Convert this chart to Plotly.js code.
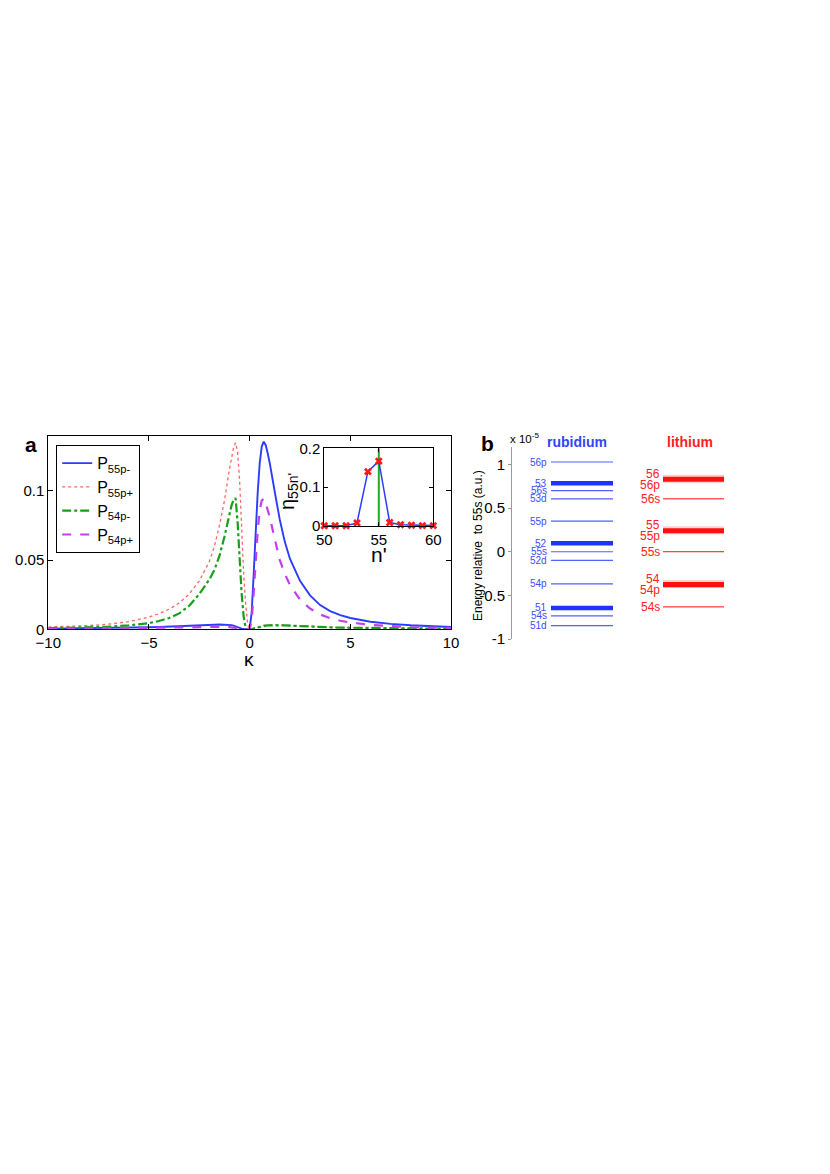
<!DOCTYPE html>
<html>
<head>
<meta charset="utf-8">
<script src="https://cdn.plot.ly/plotly-3.0.1.min.js"></script>
<style>html,body{margin:0;padding:0;background:#fff;}#chart{width:830px;height:1174px;}</style>
</head>
<body>
<div id="chart"></div>
<script>
// ---------- Panel a data ----------
const kappa = [-10,-9,-8,-7,-6,-5,-4.5,-4,-3.5,-3,-2.5,-2,-1.75,-1.5,-1.25,-1,-0.9,-0.8,-0.7,-0.6,-0.5,-0.4,-0.3,-0.2,-0.1,0,0.1,0.2,0.3,0.4,0.5,0.6,0.7,0.8,0.9,1,1.25,1.5,1.75,2,2.5,3,3.5,4,4.5,5,6,7,8,9,10];
const p55pMinus = [0.0005,0.0006,0.0008,0.001,0.0012,0.0015,0.0017,0.0019,0.0021,0.0024,0.0028,0.0031,0.0033,0.0035,0.0035,0.0032,0.003,0.0026,0.002,0.0014,0.0009,0.0005,0.0002,0,0,0.0005,0.012,0.040,0.073,0.099,0.120,0.132,0.1355,0.133,0.127,0.120,0.099,0.079,0.063,0.051,0.035,0.0245,0.0175,0.0132,0.0102,0.0082,0.0055,0.0039,0.0029,0.0022,0.0017];
const p55pPlus = [0.0016,0.002,0.0027,0.0037,0.0055,0.0088,0.0113,0.0145,0.019,0.0255,0.035,0.049,0.060,0.075,0.093,0.116,0.125,0.131,0.1348,0.128,0.108,0.073,0.041,0.019,0.004,0,0.0002,0.0007,0.0012,0.0017,0.0021,0.0025,0.0028,0.003,0.0031,0.0032,0.0032,0.0031,0.0029,0.0027,0.0023,0.0019,0.0016,0.0014,0.0012,0.0011,0.0009,0.0007,0.0006,0.0005,0.0004];
const p54pMinus = [0.0008,0.001,0.0014,0.0019,0.0028,0.0045,0.006,0.0082,0.0115,0.017,0.0255,0.036,0.043,0.053,0.067,0.084,0.0895,0.0935,0.0948,0.078,0.051,0.026,0.0095,0.001,0,0,0.0002,0.0006,0.001,0.0014,0.0018,0.0021,0.0024,0.0026,0.0028,0.0029,0.003,0.0029,0.0028,0.0026,0.0022,0.0019,0.0016,0.0014,0.0012,0.0011,0.0009,0.0007,0.0006,0.0005,0.0004];
const p54pPlus = [0.0003,0.0004,0.0005,0.0006,0.0007,0.0009,0.001,0.0011,0.0012,0.0014,0.0016,0.0018,0.0019,0.0019,0.0018,0.0016,0.0015,0.0013,0.0011,0.0008,0.0005,0.0003,0.0001,0,0,0.0003,0.006,0.026,0.050,0.071,0.086,0.093,0.0944,0.091,0.086,0.081,0.065,0.050,0.040,0.032,0.0215,0.015,0.0107,0.008,0.0062,0.0049,0.0032,0.0022,0.0016,0.0012,0.001];
const seriesNames = ['P<sub>55p-</sub>','P<sub>55p+</sub>','P<sub>54p-</sub>','P<sub>54p+</sub>'];
const kappaTicks = [-10,-5,0,5,10];
const pTicks = [0,0.05,0.1];
const pTickLabels = ['0','0.05','0.1'];

// ---------- Inset data ----------
const nPrime = [50,51,52,53,54,55,56,57,58,59,60];
const eta = [0.0005,0.0005,0.0008,0.008,0.14,0.167,0.009,0.003,0.002,0.001,0.001];
const nMarker = 55;
const etaRange = [0,0.2];
const nTicks = [50,55,60];
const etaTicks = [0,0.1,0.2];

// ---------- Panel b data (energy, units of 1e-5 a.u.) ----------
const rbLevels = ['56p','53','56s','53d','55p','52','55s','52d','54p','51','54s','51d'];
const rbEnergies = [1.028,0.786,0.700,0.606,0.350,0.097,0.000,-0.100,-0.368,-0.644,-0.736,-0.846];
const liLevels = ['56','56p','56s','55','55p','55s','54','54p','54s'];
const liEnergies = [0.836,0.812,0.606,0.246,0.222,0.000,-0.371,-0.395,-0.632];
const energyTicks = [-1,-0.5,0,0.5,1];
const energyTickLabels = ['-1','-0.5','0','0.5','1'];

// ---------- helpers ----------
const W = 830, H = 1174;
const px = v => v / W;
const py = v => 1 - v / H;
const FONT = 'Arial, "Liberation Sans", Helvetica, sans-serif';

const traces = [];
const styles = [
  {color:'#2b3cff', width:1.9},
  {color:'#ff6464', width:1.3, dash:'dot'},
  {color:'#16a016', width:2.2, dash:'dashdot'},
  {color:'#c040f0', width:2.2, dash:'dash'}
];
[p55pMinus, p55pPlus, p54pMinus, p54pPlus].forEach((ys, i) => {
  traces.push({x: kappa, y: ys, type:'scatter', mode:'lines', name: seriesNames[i],
    line: styles[i], xaxis:'x', yaxis:'y', hoverinfo:'skip'});
});
// inset
traces.push({x:[nMarker,nMarker], y:etaRange, type:'scatter', mode:'lines', showlegend:false,
  line:{color:'#22aa22', width:2}, xaxis:'x2', yaxis:'y2'});
traces.push({x:nPrime, y:eta, type:'scatter', mode:'lines+markers', showlegend:false,
  line:{color:'#2b3cff', width:1.5}, marker:{symbol:'x', size:7, color:'#ff1a1a'},
  xaxis:'x2', yaxis:'y2', cliponaxis:false});

// panel b levels
const rbX = [551, 613], liX = [663, 724];
const isManifold = s => /^\d+$/.test(s);
const annotations = [];
rbLevels.forEach((lab, i) => {
  const thick = isManifold(lab);
  traces.push({x: rbX, y:[rbEnergies[i], rbEnergies[i]], type:'scatter', mode:'lines', showlegend:false,
    line:{color: thick ? '#1f33ff' : '#5062ff', width: thick ? 4.5 : 1.2}, xaxis:'x3', yaxis:'y3'});
  annotations.push({x: rbX[0]-2, y: rbEnergies[i], xref:'x3', yref:'y3', text: lab, showarrow:false,
    xanchor:'right', yanchor:'middle', font:{family:FONT, size:10, color:'#3a4dff'}});
});
liLevels.forEach((lab, i) => {
  const thick = isManifold(lab);
  const isP = /p$/.test(lab);
  if (thick) {
    traces.push({x: liX, y:[liEnergies[i], liEnergies[i]], type:'scatter', mode:'lines', showlegend:false,
      line:{color:'rgba(255,40,40,0.22)', width:8}, xaxis:'x3', yaxis:'y3'});
  }
  traces.push({x: liX, y:[liEnergies[i], liEnergies[i]], type:'scatter', mode:'lines', showlegend:false,
    line:{color: '#ff1010', width: thick ? 4 : (isP ? 2 : 1)}, xaxis:'x3', yaxis:'y3'});
  annotations.push({x: liX[0]-1, y: liEnergies[i], xref:'x3', yref:'y3', text: lab, showarrow:false,
    xanchor:'right', yanchor:'middle', yshift: thick ? 5 : (isP ? -4 : 0),
    font:{family:FONT, size:12, color:'#ff2020'}});
});

// text annotations
annotations.push(
  {x:px(31), y:py(444), xref:'paper', yref:'paper', text:'<b>a</b>', showarrow:false, xanchor:'center', yanchor:'middle', font:{family:FONT, size:21, color:'#000'}},
  {x:px(487), y:py(443), xref:'paper', yref:'paper', text:'<b>b</b>', showarrow:false, xanchor:'center', yanchor:'middle', font:{family:FONT, size:21, color:'#000'}},
  {x:px(508), y:py(438), xref:'paper', yref:'paper', text:'x 10<sup>-5</sup>', showarrow:false, xanchor:'left', yanchor:'middle', font:{family:FONT, size:11.5, color:'#000'}},
  {x:px(577), y:py(442), xref:'paper', yref:'paper', text:'<b>rubidium</b>', showarrow:false, xanchor:'center', yanchor:'middle', font:{family:FONT, size:14, color:'#3344ff'}},
  {x:px(690), y:py(442), xref:'paper', yref:'paper', text:'<b>lithium</b>', showarrow:false, xanchor:'center', yanchor:'middle', font:{family:FONT, size:14, color:'#ff2020'}},
  {x:px(478), y:py(546), xref:'paper', yref:'paper', text:'Energy relative  to 55s (a.u.)', textangle:-90, showarrow:false, xanchor:'center', yanchor:'middle', font:{family:FONT, size:12, color:'#000'}},
  {x:px(249), y:py(659), xref:'paper', yref:'paper', text:'κ', showarrow:false, xanchor:'center', yanchor:'middle', font:{family:FONT, size:19, color:'#000'}},
  {x:px(379), y:py(554), xref:'paper', yref:'paper', text:"n'", showarrow:false, xanchor:'center', yanchor:'middle', font:{family:FONT, size:21, color:'#000'}},
  {x:px(288), y:py(492), xref:'paper', yref:'paper', text:"η<sub>55n'</sub>", textangle:-90, showarrow:false, xanchor:'center', yanchor:'middle', font:{family:FONT, size:20, color:'#000'}}
);

const axBase = {showline:true, linecolor:'#000', linewidth:1, mirror:'ticks', ticks:'inside', ticklen:5, tickcolor:'#000',
  showgrid:false, zeroline:false, tickfont:{family:FONT, size:15, color:'#000'}};

const layout = {
  width: W, height: H,
  margin:{l:0, r:0, t:0, b:0, pad:0},
  paper_bgcolor:'#fff', plot_bgcolor:'rgba(0,0,0,0)',
  font:{family:FONT, color:'#000'},
  showlegend:true,
  legend:{x:px(56), y:py(445), xanchor:'left', yanchor:'top', bgcolor:'#fff', bordercolor:'#000', borderwidth:1.2,
    font:{family:FONT, size:16, color:'#000'}, tracegroupgap:0, itemwidth:30},
  xaxis: Object.assign({}, axBase, {domain:[px(48.3), px(451)], range:[-10,10], tickmode:'array', tickvals:kappaTicks,
    anchor:'y', ticklabelstandoff:0}),
  yaxis: Object.assign({}, axBase, {domain:[py(629.3), py(435.5)], range:[0,0.14], tickmode:'array', tickvals:pTicks,
    ticktext:pTickLabels, anchor:'x'}),
  xaxis2: Object.assign({}, axBase, {domain:[px(324.3), px(433.3)], range:[50,60], tickmode:'array', tickvals:nTicks,
    anchor:'y2', ticklen:4, ticklabelstandoff:0}),
  yaxis2: Object.assign({}, axBase, {domain:[py(526), py(448.3)], range:etaRange, tickmode:'array', tickvals:etaTicks,
    ticktext:['0','0.1','0.2'], anchor:'x2', ticklen:4}),
  xaxis3: {domain:[px(512), px(760)], range:[512,760], visible:false, anchor:'y3', fixedrange:true},
  yaxis3: {domain:[py(639), py(447)], range:[-1,1.2], anchor:'x3', showline:true, linecolor:'#9a9a9a', linewidth:1,
    ticks:'outside', ticklen:3, tickcolor:'#9a9a9a', tickmode:'array', tickvals:energyTicks, ticktext:energyTickLabels,
    showgrid:false, zeroline:false, tickfont:{family:FONT, size:15, color:'#000'}},
  annotations: annotations
};

Plotly.newPlot('chart', traces, layout, {displayModeBar:false, staticPlot:true});
</script>
</body>
</html>
